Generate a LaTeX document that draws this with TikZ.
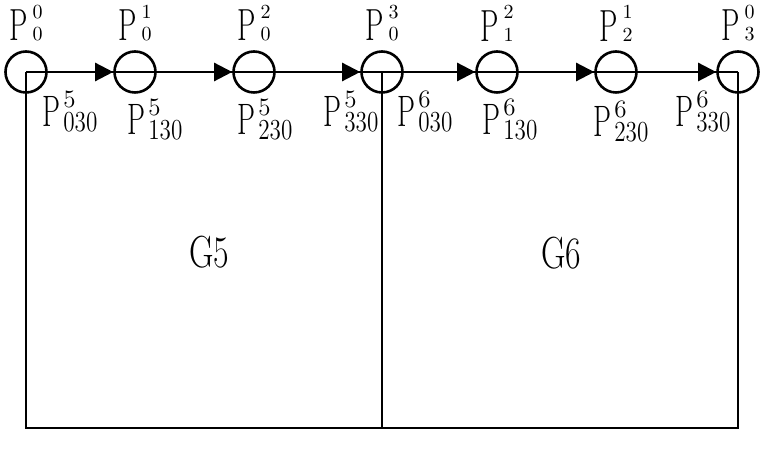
\documentclass[tikz,border=0pt]{standalone}
\usepackage{fontspec}
\usetikzlibrary{arrows.meta,positioning}
\newcommand{\narrowP}{\scalebox{0.65}[1]{P}}
\newcommand{\ptop}[2]{{\fontsize{22.5}{24}\selectfont\narrowP}\kern2.5pt%
  {\fontsize{10}{10}\selectfont\shortstack{#1\\[1.5pt]#2}}}
\newcommand{\pbot}[2]{{\fontsize{22}{24}\selectfont\narrowP}\kern1.5pt%
  \rlap{\raisebox{9.5pt}{\fontsize{12.5}{13}\selectfont #1}}%
  \raisebox{-2.5pt}{\fontsize{14.5}{15}\selectfont\scalebox{0.8}[1]{#2}}}

\begin{document}
\begin{tikzpicture}[
  x=0.5pt, y=-0.5pt,
  pt/.style={draw, circle, line width=1.3pt, minimum size=20.5pt, inner sep=0pt},
  edge/.style={line width=1.2pt},
  arr/.style={-{Triangle[length=9pt,width=9pt]}, line width=1.2pt},
  toplbl/.style={inner sep=0pt, above=4.25pt of #1},
  botlbl/.style={anchor=base west, inner sep=0pt},
  reg/.style={inner sep=0pt, font=\fontsize{22.5}{24}\selectfont}
]
  \useasboundingbox (0,0) rectangle (761,453);

  % Points on the path
  \node[pt] (p00) at (26,72)  {};
  \node[pt] (p10) at (135,72) {};
  \node[pt] (p20) at (254,72) {};
  \node[pt] (p30) at (382,72) {};
  \node[pt] (p21) at (497,72) {};
  \node[pt] (p12) at (616,72) {};
  \node[pt] (p03) at (738,72) {};

  % Point labels
  \node[toplbl=p00] (t00) {\ptop{0}{0}};
  \node[toplbl=p10] (t10) {\ptop{1}{0}};
  \node[toplbl=p20] (t20) {\ptop{2}{0}};
  \node[toplbl=p30] (t30) {\ptop{3}{0}};
  \node[toplbl=p21] (t21) {\ptop{2}{1}};
  \node[toplbl=p12] (t12) {\ptop{1}{2}};
  \node[toplbl=p03] (t03) {\ptop{0}{3}};

  % Control point labels
  \node[botlbl] (g5a) at (42,127)  {\pbot{5}{030}};
  \node[botlbl] (g5b) at (127,135) {\pbot{5}{130}};
  \node[botlbl] (g5c) at (237,135) {\pbot{5}{230}};
  \node[botlbl] (g5d) at (323,127) {\pbot{5}{330}};
  \node[botlbl] (g6a) at (397,127) {\pbot{6}{030}};
  \node[botlbl] (g6b) at (482,135) {\pbot{6}{130}};
  \node[botlbl] (g6c) at (593,137) {\pbot{6}{230}};
  \node[botlbl] (g6d) at (675,127) {\pbot{6}{330}};

  % Regions
  \coordinate (bl) at (26,428);
  \coordinate (bm) at (382,428);
  \coordinate (br) at (738,428);
  \draw[edge] (p00.center) -- (bl) -- (br) -- (p03.center);
  \draw[edge] (p30.center) -- (bm);
  \node[reg] (G5) at (209,252) {\scalebox{0.75}[1]{G5}};
  \node[reg] (G6) at (561,253) {\scalebox{0.75}[1]{G6}};

  % Path with arrows
  \draw[edge] (p00.center) -- (p03.center);
  \foreach \a/\b in {p00/p10, p10/p20, p20/p30, p30/p21, p21/p12, p12/p03}
    \draw[arr] (\a.center) -- (\b.west);
\end{tikzpicture}
\end{document}
